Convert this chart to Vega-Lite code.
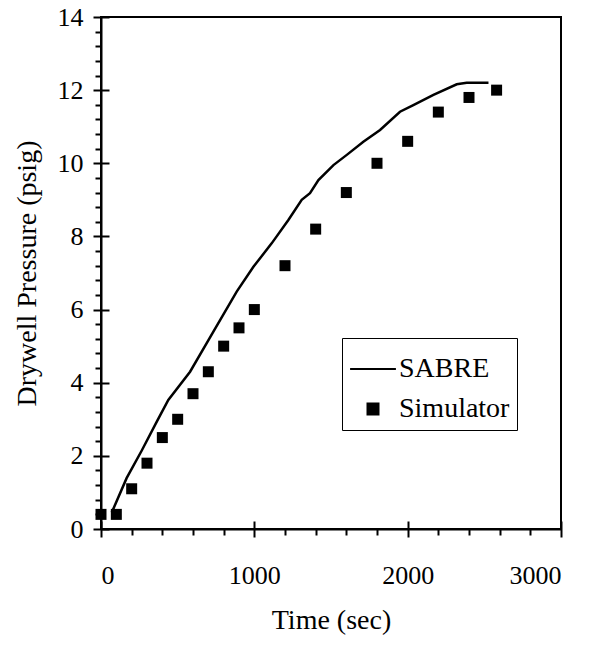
{
  "$schema": "https://vega.github.io/schema/vega-lite/v6.json",
  "width": 460,
  "height": 512,
  "autosize": {"type": "none"},
  "padding": {"left": 101, "top": 17, "right": 40, "bottom": 116},
  "background": "white",
  "config": {
    "view": {"stroke": "black", "strokeWidth": 2},
    "font": "Liberation Serif",
    "legend": {"rowPadding": 12},
    "axis": {"grid": false, "domainColor": "black", "domainWidth": 2, "tickColor": "black", "tickWidth": 2, "labelColor": "black", "titleColor": "black", "labelFont": "Liberation Serif", "titleFont": "Liberation Serif", "labelFontSize": 26, "titleFontSize": 28, "titleFontWeight": "normal"}
  },
  "datasets": {
    "sabre": [
      {"series": "SABRE", "t": 70, "p": 0.45}, {"series": "SABRE", "t": 167, "p": 1.39}, {"series": "SABRE", "t": 265, "p": 2.14}, {"series": "SABRE", "t": 363, "p": 2.93},
      {"series": "SABRE", "t": 439, "p": 3.53}, {"series": "SABRE", "t": 581, "p": 4.3}, {"series": "SABRE", "t": 733, "p": 5.4}, {"series": "SABRE", "t": 885, "p": 6.49},
      {"series": "SABRE", "t": 994, "p": 7.17}, {"series": "SABRE", "t": 1113, "p": 7.81}, {"series": "SABRE", "t": 1222, "p": 8.45}, {"series": "SABRE", "t": 1309, "p": 9.0},
      {"series": "SABRE", "t": 1363, "p": 9.18}, {"series": "SABRE", "t": 1418, "p": 9.54}, {"series": "SABRE", "t": 1516, "p": 9.95}, {"series": "SABRE", "t": 1603, "p": 10.23},
      {"series": "SABRE", "t": 1711, "p": 10.59}, {"series": "SABRE", "t": 1820, "p": 10.91}, {"series": "SABRE", "t": 1950, "p": 11.41}, {"series": "SABRE", "t": 2037, "p": 11.59},
      {"series": "SABRE", "t": 2168, "p": 11.87}, {"series": "SABRE", "t": 2320, "p": 12.16}, {"series": "SABRE", "t": 2385, "p": 12.2}, {"series": "SABRE", "t": 2527, "p": 12.2}
    ],
    "sim": [
      {"series": "Simulator", "t": 0, "p": 0.4}, {"series": "Simulator", "t": 100, "p": 0.4}, {"series": "Simulator", "t": 200, "p": 1.1}, {"series": "Simulator", "t": 300, "p": 1.8},
      {"series": "Simulator", "t": 400, "p": 2.5}, {"series": "Simulator", "t": 500, "p": 3.0}, {"series": "Simulator", "t": 600, "p": 3.7}, {"series": "Simulator", "t": 700, "p": 4.3},
      {"series": "Simulator", "t": 800, "p": 5.0}, {"series": "Simulator", "t": 900, "p": 5.5}, {"series": "Simulator", "t": 1000, "p": 6.0}, {"series": "Simulator", "t": 1200, "p": 7.2},
      {"series": "Simulator", "t": 1400, "p": 8.2}, {"series": "Simulator", "t": 1600, "p": 9.2}, {"series": "Simulator", "t": 1800, "p": 10.0}, {"series": "Simulator", "t": 2000, "p": 10.6},
      {"series": "Simulator", "t": 2200, "p": 11.4}, {"series": "Simulator", "t": 2400, "p": 11.8}, {"series": "Simulator", "t": 2580, "p": 12.0}
    ]
  },
  "resolve": {"axis": {"x": "independent", "y": "independent"}},
  "layer": [
    {
      "data": {"name": "sabre"},
      "mark": {"type": "line", "color": "black", "strokeWidth": 2.5},
      "encoding": {
        "x": {"field": "t", "type": "quantitative", "scale": {"domain": [0, 3000], "nice": false},
          "axis": {"orient": "bottom", "values": [0, 1000, 2000, 3000], "tickSize": 16, "offset": -8, "domain": false, "labelPadding": 25, "title": "Time (sec)", "titlePadding": 18, "format": "d"}},
        "y": {"field": "p", "type": "quantitative", "scale": {"domain": [0, 14], "nice": false},
          "axis": {"orient": "left", "values": [0, 2, 4, 6, 8, 10, 12, 14], "tickSize": 16, "offset": -8, "domain": false, "labelPadding": 10, "title": "Drywell Pressure (psig)", "titlePadding": 16}}
      }
    },
    {
      "data": {"name": "sim"},
      "mark": {"type": "point", "filled": true, "opacity": 1},
      "encoding": {
        "x": {"field": "t", "type": "quantitative", "scale": {"domain": [0, 3000], "nice": false},
          "axis": {"orient": "bottom", "values": [200, 400, 600, 800, 1200, 1400, 1600, 1800, 2200, 2400, 2600, 2800], "tickSize": 6, "labels": false, "domain": true, "title": null}},
        "y": {"field": "p", "type": "quantitative", "scale": {"domain": [0, 14], "nice": false},
          "axis": {"orient": "left", "values": [0.4, 0.8, 1.2, 1.6, 2.4, 2.8, 3.2, 3.6, 4.4, 4.8, 5.2, 5.6, 6.4, 6.8, 7.2, 7.6, 8.4, 8.8, 9.2, 9.6, 10.4, 10.8, 11.2, 11.6, 12.4, 12.8, 13.2, 13.6], "tickSize": 6, "labels": false, "domain": true, "title": null}},
        "shape": {"field": "series", "type": "nominal", "scale": {"domain": ["SABRE", "Simulator"], "range": ["stroke", "square"]},
          "legend": {"title": null, "orient": "none", "legendX": 241, "legendY": 321, "strokeColor": "black", "padding": 7, "labelFontSize": 28, "labelFont": "Liberation Serif", "labelColor": "black", "labelOffset": 2, "symbolStrokeColor": "black", "symbolStrokeWidth": 2, "rowPadding": 12, "cornerRadius": 0,
            "encode": {"legend": {"update": {"strokeWidth": {"value": 2}}}}}},
        "color": {"field": "series", "type": "nominal", "scale": {"domain": ["SABRE", "Simulator"], "range": ["black", "black"]}, "legend": {"title": null, "rowPadding": 12}},
        "size": {"field": "series", "type": "nominal", "scale": {"domain": ["SABRE", "Simulator"], "range": [2100, 121]}, "legend": {"title": null, "rowPadding": 12}}
      }
    }
  ]
}
